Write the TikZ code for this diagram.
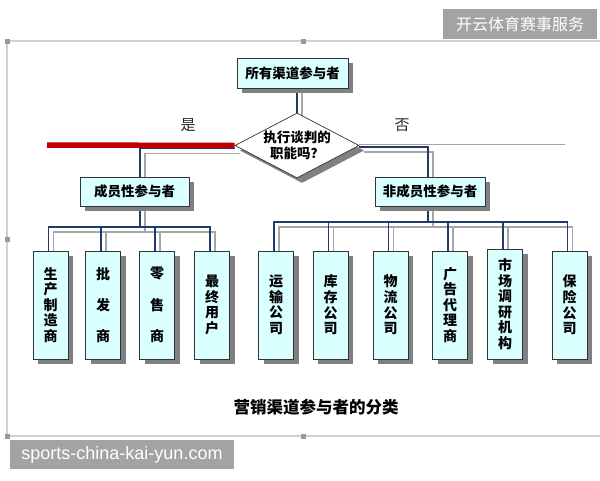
\documentclass[tikz,border=0pt]{standalone}
\usepackage{fontspec}
\newfontfamily\cjk{Noto Sans CJK SC}
\newfontfamily\wmsans{Liberation Sans}
\definecolor{CPCyan}{HTML}{D9FFFF}
\definecolor{CPBlue}{HTML}{1F3B6B}
\definecolor{CPGrey}{HTML}{A6A6A6}
\definecolor{CPRed}{HTML}{C00000}
\definecolor{CPNo}{HTML}{B89C9C}
\definecolor{CPShadow}{HTML}{808080}
\definecolor{CPFrame}{HTML}{D0D0D0}
\definecolor{CPHandle}{HTML}{9A9A9A}
\definecolor{CPMark}{HTML}{A3A3A3}
\usepackage{tikz}
\usetikzlibrary{positioning,shapes.geometric,shadows,backgrounds}
\pgfdeclarelayer{wires}
\pgfsetlayers{background,wires,main}
\tikzset{
  partbox/.style={draw=black!80, fill=CPCyan, line width=0.7pt, inner sep=0pt,
    drop shadow={shadow xshift=5pt, shadow yshift=-5pt, fill=CPShadow, opacity=1},
    font=\cjk\bfseries\fontsize{13.5}{15.5}\selectfont},
  leafbox/.style={partbox, minimum width=35pt, minimum height=108pt, align=center,
    font=\cjk\bfseries\fontsize{14}{15.6}\selectfont},
  askdia/.style={diamond, aspect=2, draw=black!80, fill=white, line width=0.7pt,
    inner sep=0pt, minimum width=122pt, minimum height=65pt, align=center,
    drop shadow={shadow xshift=5pt, shadow yshift=-5pt, fill=CPShadow, opacity=1},
    font=\cjk\bfseries\fontsize{13.5}{15.5}\selectfont},
  bluewire/.style={draw=CPBlue, line width=1.1pt},
  greywire/.style={draw=CPGrey, line width=1.1pt},
  signtext/.style={font=\cjk\fontsize{15}{15}\selectfont, text=black!85},
  marktext/.style={fill=CPMark, text=white, inner sep=0pt},
}
\begin{document}
\begin{tikzpicture}[x=1pt,y=-1pt]
  \useasboundingbox (0,0) rectangle (600,480);
  \begin{pgfonlayer}{background}
    \fill[white] (0,0) rectangle (600,480);
    \draw[CPFrame, line width=1.2pt] (600,41) -- (7,41) -- (7,436) -- (600,436);
    \foreach \hx/\hy in {7/41,303/41,7/239,7/436,303/436}
      \fill[CPHandle] (\hx-2.5,\hy-2.5) rectangle (\hx+2.5,\hy+2.5);
  \end{pgfonlayer}

  \node[partbox, minimum width=111pt, minimum height=30pt] (all) at (292.5,73) {所有渠道参与者};
  \node[askdia] (ask) at (297,145.5) {执行谈判的\\职能吗？};
  \node[partbox, minimum width=109pt, minimum height=29pt] (member) at (134.5,191.5) {成员性参与者};
  \node[partbox, minimum width=110pt, minimum height=29pt] (nonmember) at (430,191.5) {非成员性参与者};

  % member leaves
  \node[leafbox] (maker) at (50.5,305) {生\\产\\制\\造\\商};
  \node[leafbox] (whole) at (103,305) {批\\[15.6pt]发\\[15.6pt]商};
  \node[leafbox] (retail) at (157,305) {零\\[15.6pt]售\\[15.6pt]商};
  \node[leafbox] (enduser) at (212,305) {最\\终\\用\\户};
  % non-member leaves
  \node[leafbox] (transport) at (276,305) {运\\输\\公\\司};
  \node[leafbox] (storage) at (330.5,305) {库\\存\\公\\司};
  \node[leafbox] (logistic) at (390.5,305) {物\\流\\公\\司};
  \node[leafbox] (adagent) at (450,305) {广\\告\\代\\理\\商};
  \node[leafbox, minimum height=110pt] (research) at (505,304) {市\\场\\调\\研\\机\\构};
  \node[leafbox] (insure) at (569.5,305) {保\\险\\公\\司};

  \node[signtext] (yes) at (188,125) {是};
  \node[signtext] (no) at (402,125) {否};
  \node[font=\cjk\bfseries\fontsize{16.5}{16.5}\selectfont] (caption) at (316,407) {营销渠道参与者的分类};

  \begin{pgfonlayer}{wires}
    \coordinate (mbus) at (140,227);
    \coordinate (mbusg) at (145,232);
    \coordinate (nbus) at (428,222);
    \coordinate (nbusg) at (433,227);
    % grey copies first
    \draw[greywire] ([xshift=9.5pt]all.south) -- ([xshift=5pt,yshift=-12pt]ask.north);
    \draw[greywire] ([xshift=5pt,yshift=-8pt]ask.west) -| ([xshift=10.5pt]member.north);
    \draw[greywire] ([xshift=5pt,yshift=-6.5pt]ask.east) -| ([xshift=3pt]nonmember.north);
    \draw[greywire] (member.south -| mbusg) -- (mbusg);
    \foreach \leaf in {maker,whole,retail,enduser}
      \draw[greywire] ([xshift=3pt]\leaf.north) |- (mbusg);
    \draw[greywire] (nonmember.south -| nbusg) -- (nbusg);
    \foreach \leaf in {transport,storage,logistic,adagent,research,insure}
      \draw[greywire] ([xshift=3pt]\leaf.north) |- (nbusg);
    % blue lines
    \draw[bluewire] ([xshift=4.5pt]all.south) -- (ask.north);
    \draw[bluewire] ([yshift=-3pt]ask.west) -| ([xshift=5.5pt]member.north);
    \draw[bluewire] ([yshift=-1.5pt]ask.east) -| ([xshift=-2pt]nonmember.north);
    \draw[bluewire] (member.south -| mbus) -- (mbus);
    \foreach \leaf in {maker,whole,retail,enduser}
      \draw[bluewire] ([xshift=-2pt]\leaf.north) |- (mbus);
    \draw[bluewire] (nonmember.south -| nbus) -- (nbus);
    \foreach \leaf in {transport,storage,logistic,adagent,research,insure}
      \draw[bluewire] ([xshift=-2pt]\leaf.north) |- (nbus);
    % yes / no line
    \draw[CPRed, line width=5.5pt] (47,145) -- (ask.west);
    \draw[CPNo, line width=0.8pt] ([yshift=1.5pt]ask.east) -- (565,144);
  \end{pgfonlayer}

  \node[marktext, minimum width=154pt, minimum height=30pt, font=\cjk\fontsize{16}{16}\selectfont] (markcn) at (520,24) {开云体育赛事服务};
  \node[marktext, minimum width=224pt, minimum height=29pt, font=\wmsans\fontsize{18}{18}\selectfont] (markurl) at (122,454.5) {sports-china-kai-yun.com};
\end{tikzpicture}
\end{document}
